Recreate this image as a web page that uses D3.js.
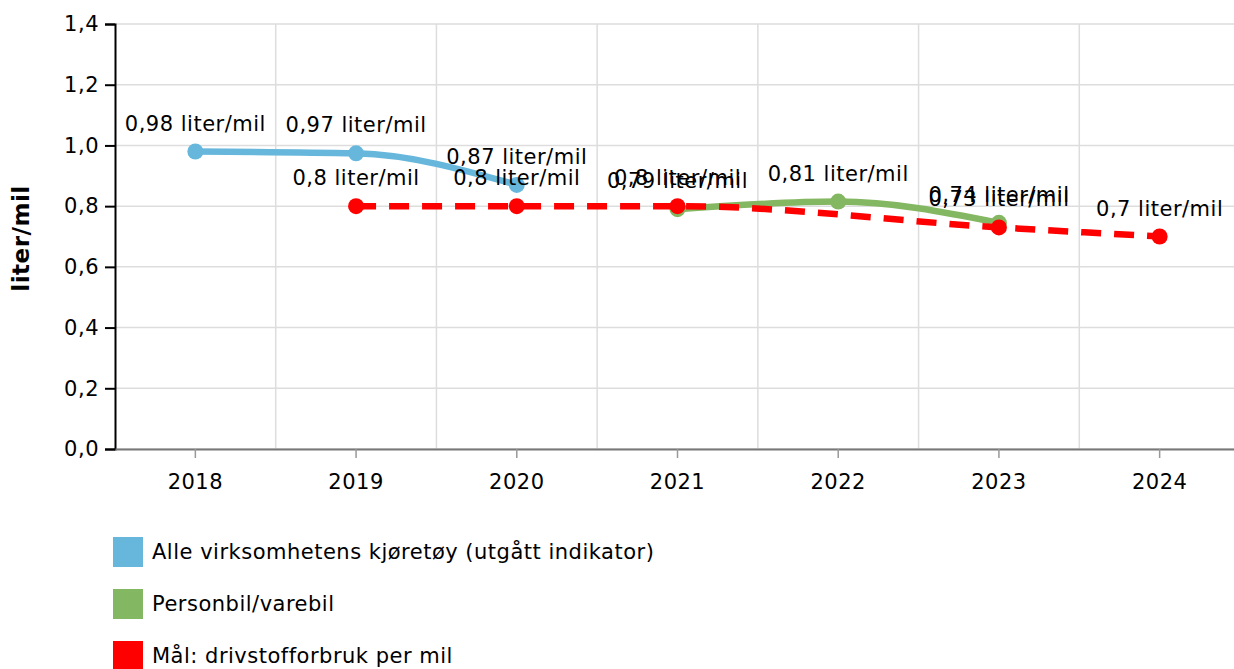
<!DOCTYPE html>
<style>
body { margin: 0; background: #fff; }
</style>
<svg width="1234" height="669" font-family="DejaVu Sans, Verdana, sans-serif" font-size="21" letter-spacing="0.5"></svg>
<script src="https://d3js.org/d3.v7.min.js"></script>
<script>

const years = ['2018', '2019', '2020', '2021', '2022', '2023', '2024'];
const alleKjoretoy = [0.98, 0.974, 0.87, null, null, null, null];
const personbil = [null, null, null, 0.79, 0.815, 0.745, null];
const maal = [null, 0.8, 0.8, 0.8, null, 0.73, 0.7];
const yTicks = [0, 0.2, 0.4, 0.6, 0.8, 1.0, 1.2, 1.4];

const series = [
	{name: 'Alle virksomhetens kjøretøy (utgått indikator)', color: '#67b7dc', values: alleKjoretoy, dash: null},
	{name: 'Personbil/varebil', color: '#84b761', values: personbil, dash: null},
	{name: 'Mål: drivstofforbruk per mil', color: '#ff0000', values: maal, dash: '20,13'}
];

const fs = 21;
const svg = d3.select('svg');
const margin = {left: 115, top: 24, bottom: 449};
const plotRight = 1240;

const x = d3.scaleBand()
	.domain(years)
	.range([margin.left, plotRight]);

const y = d3.scaleLinear()
	.domain([0, 1.4])
	.range([margin.bottom, margin.top]);

const comma = (v, f) => d3.format(f)(v).replace('.', ',');
const cx = (yr) => x(yr) + x.bandwidth() / 2;

// grid
svg.append('g')
	.selectAll('line')
	.data(yTicks)
	.join('line')
	.attr('x1', margin.left)
	.attr('x2', plotRight)
	.attr('y1', (d) => y(d))
	.attr('y2', (d) => y(d))
	.attr('stroke', '#ddd')
	.attr('stroke-width', 1.5);

svg.append('g')
	.selectAll('line')
	.data(years.slice(1))
	.join('line')
	.attr('x1', (d) => x(d))
	.attr('x2', (d) => x(d))
	.attr('y1', margin.top)
	.attr('y2', margin.bottom)
	.attr('stroke', '#ddd')
	.attr('stroke-width', 1.5);

// y axis
const yAxis = svg.append('g')
	.attr('transform', `translate(${margin.left},0)`)
	.call(d3.axisLeft(y).tickValues(yTicks).tickSize(10).tickPadding(6).tickFormat((d) => comma(d, '.1f')));
yAxis.attr('font-size', fs).attr('font-family', null);
yAxis.select('.domain').attr('stroke', '#000').attr('stroke-width', 2);
yAxis.selectAll('.tick line').attr('stroke', '#000').attr('stroke-width', 2);
yAxis.selectAll('text').attr('fill', '#000');

// x axis
const xAxis = svg.append('g')
	.attr('transform', `translate(0,${margin.bottom})`)
	.call(d3.axisBottom(x).tickSize(9).tickSizeOuter(0).tickPadding(16));
xAxis.attr('font-size', fs).attr('font-family', null);
xAxis.select('.domain').attr('stroke', '#777').attr('stroke-width', 2);
xAxis.selectAll('.tick line').attr('stroke', '#999').attr('stroke-width', 1.5);
xAxis.selectAll('text').attr('fill', '#000');

svg.append('text')
	.attr('transform', `translate(29,${(margin.top + margin.bottom) / 2 + 2}) rotate(-90)`)
	.attr('text-anchor', 'middle')
	.attr('font-weight', 'bold')
	.attr('font-size', 23)
	.text('liter/mil');

const line = d3.line()
	.x((d) => cx(d.year))
	.y((d) => y(d.value))
	.curve(d3.curveMonotoneX);

series.forEach((s) => {
	const pts = years.map((yr, i) => ({year: yr, value: s.values[i]})).filter((d) => d.value !== null);
	s.pts = pts;
	svg.append('path')
		.datum(pts)
		.attr('d', line)
		.attr('fill', 'none')
		.attr('stroke', s.color)
		.attr('stroke-width', 6.5)
		.attr('stroke-dasharray', s.dash);
	svg.append('g')
		.selectAll('circle')
		.data(pts)
		.join('circle')
		.attr('cx', (d) => cx(d.year))
		.attr('cy', (d) => y(d.value))
		.attr('r', 8)
		.attr('fill', s.color);
});

series.forEach((s) => {
	svg.append('g')
		.attr('font-size', fs)
		.selectAll('text')
		.data(s.pts)
		.join('text')
		.attr('x', (d) => cx(d.year))
		.attr('y', (d) => y(d.value) - 21)
		.attr('text-anchor', 'middle')
		.attr('fill', '#000')
		.text((d) => `${comma(d.value, '.2~f')} liter/mil`);
});

// legend
const legend = svg.append('g')
	.attr('font-size', fs)
	.selectAll('g')
	.data(series)
	.join('g')
	.attr('transform', (d, i) => `translate(113,${537 + i * 52})`);
legend.append('rect')
	.attr('width', 30)
	.attr('height', 30)
	.attr('fill', (d) => d.color);
legend.append('text')
	.attr('x', 39)
	.attr('y', 15)
	.attr('dy', '0.35em')
	.attr('fill', '#000')
	.text((d) => d.name);

</script>
